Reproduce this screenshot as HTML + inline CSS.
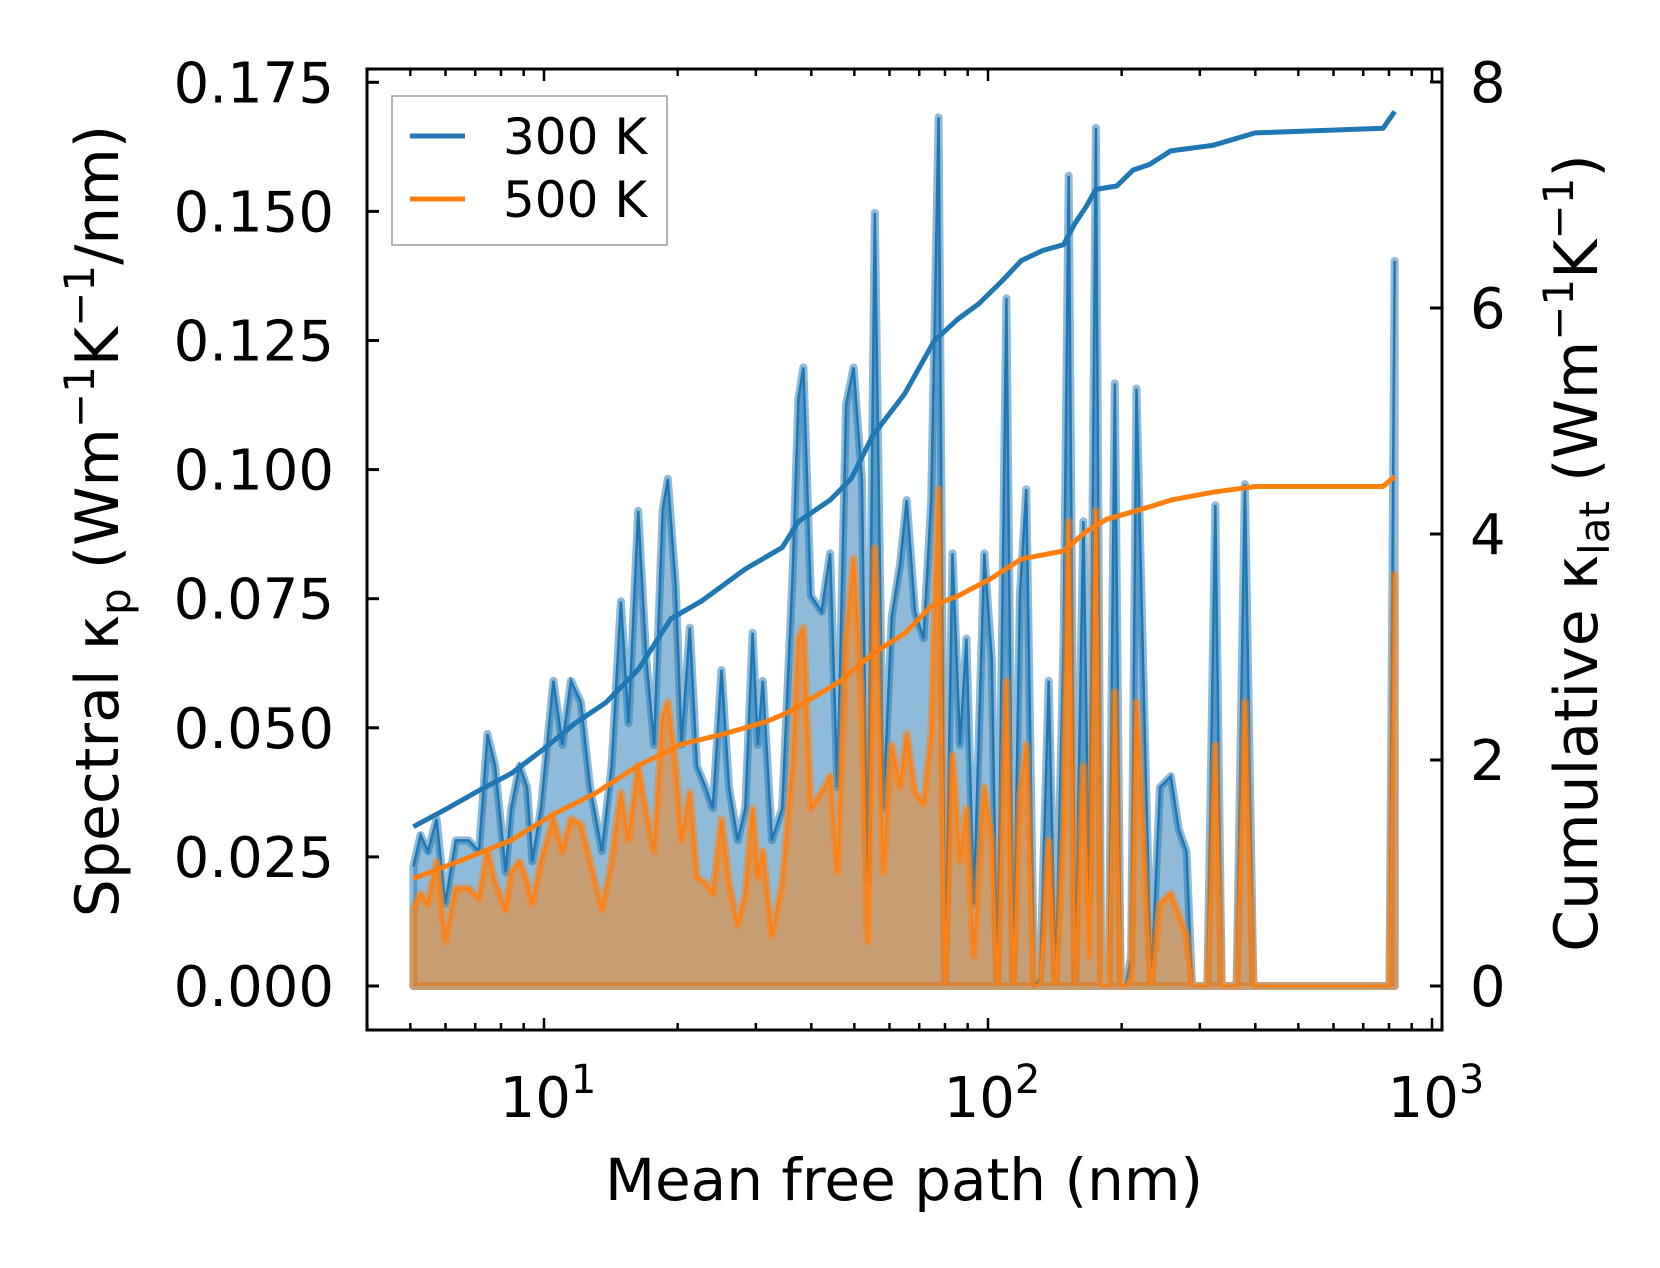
<!DOCTYPE html>
<html><head><meta charset="utf-8"><style>
body{margin:0;background:#fff}
svg text{font-family:"DejaVu Sans","Liberation Sans",sans-serif;fill:#000}
</style></head><body>
<svg id="c" width="1660" height="1263" xmlns="http://www.w3.org/2000/svg"></svg>
<script>
const mfp=[5.08,5.27,5.48,5.73,5.99,6.33,6.76,7.14,7.46,7.76,8.20,8.43,8.81,9.16,9.41,9.84,10.5,11.0,11.5,12.1,12.7,13.5,14.2,14.9,15.5,16.3,17.0,17.7,18.5,19.0,19.8,20.4,21.3,22.1,23.1,24.0,25.1,26.1,27.3,28.4,29.5,30.3,31.1,32.6,34.4,36.3,37.4,38.4,39.9,42.2,44.1,45.8,47.9,49.8,52.0,53.5,55.6,58.1,60.7,63.4,65.6,68.5,71.6,74.5,77.4,80.0,83.2,86.5,89.4,92.9,98.1,102,105,110,114,118,122,127,131,137,142,148,152,157,164,169,175,180,187,193,199,204,210,216,224,233,244,258,269,280,288,312,325,336,363,379,396,776,802,824];
const spec300=[0.0231,0.0292,0.0261,0.0323,0.0159,0.0282,0.0282,0.0261,0.0488,0.0426,0.0220,0.0344,0.0426,0.0385,0.0241,0.0344,0.0591,0.0467,0.0591,0.0550,0.0385,0.0261,0.0426,0.0745,0.0509,0.0920,0.0632,0.0467,0.0920,0.0982,0.0776,0.0467,0.0694,0.0426,0.0385,0.0344,0.0612,0.0385,0.0282,0.0344,0.0684,0.0467,0.0591,0.0282,0.0344,0.0797,0.1137,0.1198,0.0756,0.0725,0.0838,0.0385,0.1126,0.1198,0.0982,0.0200,0.1497,0.0344,0.0714,0.0817,0.0941,0.0725,0.0673,0.0941,0.1682,0,0.0838,0.0467,0.0673,0.0159,0.0838,0.0632,0,0.1332,0.0014,0.0756,0.0962,0,0.0014,0.0591,0,0.0673,0.1569,0,0.0900,0.0159,0.1662,0,0,0.1167,0,0,0.0056,0.1157,0.0591,0,0.0385,0.0406,0.0303,0.0261,0,0,0.0931,0,0,0.0972,0,0,0,0.1404];
const spec500=[0.0148,0.0179,0.0159,0.0241,0.0086,0.0189,0.0189,0.0169,0.0261,0.0200,0.0148,0.0220,0.0241,0.0200,0.0159,0.0241,0.0323,0.0261,0.0323,0.0313,0.0241,0.0148,0.0241,0.0375,0.0282,0.0426,0.0334,0.0261,0.0519,0.0550,0.0426,0.0282,0.0375,0.0210,0.0200,0.0179,0.0323,0.0200,0.0117,0.0179,0.0344,0.0210,0.0261,0.0097,0.0200,0.0426,0.0673,0.0694,0.0344,0.0375,0.0406,0.0220,0.0673,0.0828,0.0550,0.0086,0.0848,0.0220,0.0467,0.0385,0.0488,0.0375,0.0354,0.0488,0.0962,0,0.0447,0.0241,0.0344,0.0056,0.0385,0.0282,0,0.0591,0.0004,0.0364,0.0467,0,0.0004,0.0282,0,0.0303,0.0900,0,0.0426,0.0056,0.0920,0,0,0.0570,0,0,0.0014,0.0550,0.0261,0,0.0159,0.0179,0.0138,0.0097,0,0,0.0467,0,0,0.0550,0,0,0,0.0797];
const cumX300=[5.08,6.05,7.14,8.43,9.94,11.7,13.8,16.3,19.3,22.7,28.4,34.4,37.4,44.1,49.2,55.0,64.9,75.7,85.4,95.5,107,119,133,148,157,166,175,195,212,231,258,321,400,776,824];
const cum300=[1.41,1.57,1.73,1.88,2.09,2.32,2.51,2.80,3.25,3.41,3.69,3.88,4.11,4.30,4.49,4.87,5.24,5.71,5.90,6.04,6.23,6.42,6.51,6.56,6.75,6.89,7.05,7.08,7.22,7.27,7.39,7.44,7.55,7.59,7.74];
const cumX500=[5.08,6.40,8.43,10.5,13.1,16.3,20.4,25.4,31.7,35.4,39.5,46.6,55.0,64.9,74.5,85.4,101,119,148,166,185,231,258,321,400,776,824];
const cum500=[0.95,1.10,1.29,1.52,1.71,1.95,2.14,2.23,2.34,2.42,2.53,2.70,2.94,3.12,3.36,3.45,3.60,3.78,3.85,4.02,4.13,4.24,4.30,4.37,4.42,4.42,4.51];
const yTicks=["0.000","0.025","0.050","0.075","0.100","0.125","0.150","0.175"];
const y2Ticks=[0,2,4,6,8];

const L=367,R=1442,T=69,B=1030;
const X=v=>544+444*(Math.log10(v)-1);
const Y=v=>986-v/0.025*129.1;
const Y2=v=>986-v*113.0;
const svg=document.getElementById('c');
const NS='http://www.w3.org/2000/svg';
function mk(tag,attrs,parent){const e=document.createElementNS(NS,tag);for(const k in attrs)e.setAttribute(k,attrs[k]);(parent||svg).appendChild(e);return e;}
function area(ys,col,name){
  let d='M'+X(mfp[0])+','+Y(0);
  mfp.forEach((m,i)=>d+=' L'+X(m).toFixed(1)+','+Y(ys[i]).toFixed(1));
  d+=' L'+X(mfp[mfp.length-1])+','+Y(0)+' Z';
  const a=mk('path',{d:d,fill:col,'fill-opacity':0.5,stroke:col,'stroke-opacity':0.5,'stroke-width':8,'stroke-linejoin':'round'});
  
  
  let d2='';mfp.forEach((m,i)=>d2+=(i?' L':'M')+X(m).toFixed(1)+','+Y(ys[i]).toFixed(1));
  const l=mk('path',{d:d2,fill:'none',stroke:col,'stroke-width':2.5});
  
  
}
area(spec300,'#1f77b4','spectral-300k');
area(spec500,'#ff7f0e','spectral-500k');
function cline(xs,ys,col,name){
  let d='';xs.forEach((m,i)=>d+=(i?' L':'M')+X(m).toFixed(1)+','+Y2(ys[i]).toFixed(1));
  const l=mk('path',{d:d,fill:'none',stroke:col,'stroke-width':5,'stroke-linejoin':'round'});
  
  
}
cline(cumX300,cum300,'#1f77b4','cumulative-300k');
cline(cumX500,cum500,'#ff7f0e','cumulative-500k');
const fr=mk('rect',{x:L,y:T,width:R-L,height:B-T,fill:'none',stroke:'#000','stroke-width':3});


yTicks.forEach((t,i)=>{
  const y=Y(i*0.025);
  mk('line',{x1:L,x2:L+12,y1:y,y2:y,stroke:'#000','stroke-width':3});
  const tx=mk('text',{x:334,y:y+20,'font-size':56,'text-anchor':'end'});tx.textContent=t;
  
  
});
y2Ticks.forEach(t=>{
  const y=Y2(t);
  mk('line',{x1:R-12,x2:R,y1:y,y2:y,stroke:'#000','stroke-width':3});
  const tx=mk('text',{x:1470,y:y+20,'font-size':56});tx.textContent=t;
  
  
});
for(let p=0;p<=3;p++)for(let k=1;k<10;k++){
  const v=k*Math.pow(10,p);const x=X(v);
  if(x<L||x>R)continue;
  const len=k===1?12:7;
  mk('line',{x1:x,x2:x,y1:B,y2:B-len,stroke:'#000','stroke-width':2.5});
  mk('line',{x1:x,x2:x,y1:T,y2:T+len,stroke:'#000','stroke-width':2.5});
}
[1,2,3].forEach(p=>{
  const tx=mk('text',{x:X(Math.pow(10,p))+4,y:1117,'font-size':56,'text-anchor':'middle'});
  tx.innerHTML='10<tspan dy="-24" font-size="40">'+p+'</tspan>';
  
  
});
const xl=mk('text',{x:904,y:1200,'font-size':58,'text-anchor':'middle'});xl.textContent='Mean free path (nm)';


const yl=mk('text',{x:0,y:0,'font-size':60,'text-anchor':'middle',transform:'translate(118,521) rotate(-90)'});
yl.innerHTML='Spectral κ<tspan font-size="42" dy="12">p</tspan><tspan dy="-12"> (Wm</tspan><tspan font-size="42" dy="-24">−1</tspan><tspan dy="24">K</tspan><tspan font-size="42" dy="-24">−1</tspan><tspan dy="24">/nm)</tspan>';


const yr=mk('text',{x:0,y:0,'font-size':60,'text-anchor':'middle',transform:'translate(1597,553) rotate(-90)'});
yr.innerHTML='Cumulative κ<tspan font-size="42" dy="12">lat</tspan><tspan dy="-12"> (Wm</tspan><tspan font-size="42" dy="-24">−1</tspan><tspan dy="24">K</tspan><tspan font-size="42" dy="-24">−1</tspan><tspan dy="24">)</tspan>';


const lg=mk('g',{});


mk('rect',{x:392,y:96,width:275,height:149,fill:'#fff','fill-opacity':0.8,stroke:'#999','stroke-width':1.5},lg);
[['300 K','#1f77b4',136],['500 K','#ff7f0e',199]].forEach(e=>{
  mk('line',{x1:410,x2:465,y1:e[2],y2:e[2],stroke:e[1],'stroke-width':5},lg);
  const t=mk('text',{x:503,y:e[2]+18,'font-size':50},lg);t.textContent=e[0];
  
  
});
</script>
</body></html>
